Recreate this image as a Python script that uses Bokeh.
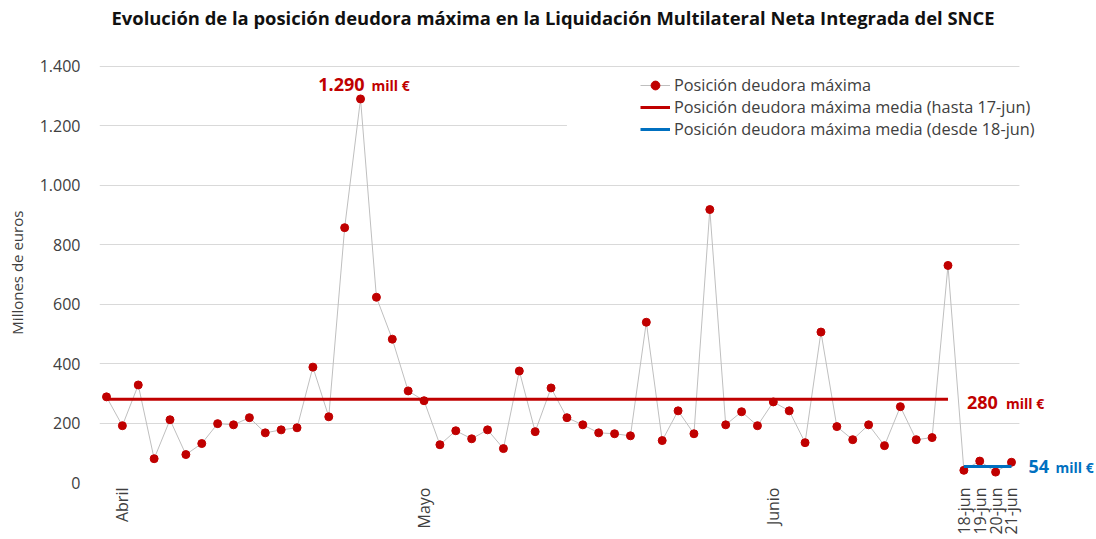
import numpy as np
from bokeh.plotting import figure
from bokeh.models import FixedTicker, Label, Legend, LegendItem, Range1d, BoxAnnotation
from bokeh.embed import file_html
from bokeh.resources import INLINE

# ---- data ----
values = [288, 191, 328, 80, 211, 94, 131, 198, 194, 218, 167, 177, 184, 388, 221,
          857, 1290, 623, 482, 308, 275, 127, 174, 147, 177, 114, 375, 171, 318, 218,
          194, 167, 164, 157, 539, 141, 241, 164, 918, 194, 238, 191, 271, 241, 134,
          506, 188, 144, 194, 124, 255, 144, 151, 730, 41, 72, 35, 68]
split = 54  # first day from 18-jun
x_tick_pos = [1, 20, 42, 54, 55, 56, 57]
x_tick_labels = ["Abril", "Mayo", "Junio", "18-jun", "19-jun", "20-jun", "21-jun"]
y_ticks = [0, 200, 400, 600, 800, 1000, 1200, 1400]
y_tick_labels = ["0", "200", "400", "600", "800", "1.000", "1.200", "1.400"]
series_names = ["Posición deudora máxima",
                "Posición deudora máxima media (hasta 17-jun)",
                "Posición deudora máxima media (desde 18-jun)"]
title_text = "Evolución de la posición deudora máxima en la Liquidación Multilateral Neta Integrada del SNCE"
y_axis_title = "Millones de euros"

RED = "#C00000"
BLUE = "#0070C0"
GRAY = "#BFBFBF"
TXT = "#404040"
FONT = "Open Sans"

x = list(range(len(values)))
n = len(values)
mean_before = round(sum(values[:split]) / split)
mean_after = round(sum(values[split:]) / (n - split))
peak_i = int(np.argmax(values))

W, H = 1094, 537
FRAME_LEFT, FRAME_BOTTOM_PAD = 99, 53
PLOT_TOP = 66                      # canvas y of the 1400 gridline
px_per_idx = 15.877
x_start = -0.441
x_end = x_start + (W - FRAME_LEFT) / px_per_idx
grid_end = n - 0.5
frame_h = H - FRAME_BOTTOM_PAD
y_max = y_ticks[-1]
y_end = y_max * frame_h / (frame_h - PLOT_TOP)

p = figure(width=W, height=H, output_backend="svg", toolbar_location=None,
           x_range=Range1d(x_start, x_end), y_range=Range1d(0, y_end),
           min_border_left=FRAME_LEFT, min_border_right=0, min_border_top=0,
           min_border_bottom=FRAME_BOTTOM_PAD)
p.outline_line_color = None
p.background_fill_color = "white"
p.xgrid.visible = False
p.ygrid.grid_line_color = "#D9D9D9"
p.ygrid.grid_line_width = 1

p.yaxis.ticker = FixedTicker(ticks=y_ticks)
p.yaxis.major_label_overrides = {t: l for t, l in zip(y_ticks, y_tick_labels)}
p.yaxis.axis_line_color = None
p.yaxis.major_tick_line_color = None
p.yaxis.minor_tick_line_color = None
p.yaxis.major_tick_out = 0
p.yaxis.major_label_standoff = 19
p.yaxis.major_label_text_font = FONT
p.yaxis.major_label_text_font_size = "16px"
p.yaxis.major_label_text_color = TXT
# trailing no-break spaces centre the visible title on the 0-1400 band
p.yaxis.axis_label = y_axis_title + "\u00a0" * 16
p.yaxis.axis_label_text_font = FONT
p.yaxis.axis_label_text_font_style = "normal"
p.yaxis.axis_label_text_font_size = "15px"
p.yaxis.axis_label_text_color = TXT
p.yaxis.axis_label_standoff = 10

p.xaxis.ticker = FixedTicker(ticks=x_tick_pos)
p.xaxis.major_label_overrides = {t: l for t, l in zip(x_tick_pos, x_tick_labels)}
p.xaxis.axis_line_color = None
p.xaxis.major_tick_line_color = None
p.xaxis.minor_tick_line_color = None
p.xaxis.major_tick_out = 0
p.xaxis.major_label_standoff = 5
p.xaxis.major_label_orientation = np.pi / 2
p.xaxis.major_label_text_font = FONT
p.xaxis.major_label_text_font_size = "16px"
p.xaxis.major_label_text_color = TXT

# white covers: gridline end on the right, and behind the legend
p.add_layout(BoxAnnotation(left=grid_end, right=x_end + 1, bottom=-100, top=y_end + 100,
                           fill_color="white", fill_alpha=1, line_color=None))
p.add_layout(BoxAnnotation(left=29, right=grid_end, bottom=1170, top=1230,
                           fill_color="white", fill_alpha=1, line_color=None))

r_line = p.line(x, values, line_color=GRAY, line_width=1)
r_pts = p.scatter(x, values, size=8, fill_color=RED, line_color=RED)
r_m1 = p.line([0, split - 1], [mean_before, mean_before], line_color=RED, line_width=3)
r_m2 = p.line([split, n - 1], [mean_after, mean_after], line_color=BLUE, line_width=3)

legend = Legend(items=[LegendItem(label=series_names[0], renderers=[r_line, r_pts]),
                       LegendItem(label=series_names[1], renderers=[r_m1]),
                       LegendItem(label=series_names[2], renderers=[r_m2])],
                location=(541, 342),
                orientation="vertical",
                border_line_color=None, background_fill_color="white", background_fill_alpha=1,
                padding=5, spacing=0, margin=0, glyph_width=30, glyph_height=22,
                label_height=22, label_standoff=4,
                label_text_font=FONT, label_text_font_size="16.3px", label_text_color=TXT)
p.add_layout(legend)

# Title (inside the extended frame, above the 1400 line)
p.add_layout(Label(x=x_start, y=y_max, x_offset=12, y_offset=PLOT_TOP - 17,
                   text=title_text, text_align="left", text_baseline="middle",
                   text_font=FONT, text_font_style="bold", text_font_size="18.4px",
                   text_color="#111111"))

def fmt(v):
    return f"{v:,}".replace(",", ".")

def annot(xi, yv, num, color, dx_num, dx_unit, dy, num_align="left"):
    p.add_layout(Label(x=xi, y=yv, x_offset=dx_num, y_offset=dy, text=num,
                       text_align=num_align, text_baseline="middle",
                       text_font=FONT, text_font_style="bold", text_font_size="18px",
                       text_color=color))
    p.add_layout(Label(x=xi, y=yv, x_offset=dx_unit, y_offset=dy - 1, text="mill €",
                       text_align="left", text_baseline="middle",
                       text_font=FONT, text_font_style="bold", text_font_size="14px",
                       text_color=color))

annot(peak_i, values[peak_i], fmt(values[peak_i]), RED, 4, 11, 14, num_align="right")
annot(split - 1, mean_before, fmt(mean_before), RED, 19, 58, -3)
annot(n - 1, mean_after, fmt(mean_after), BLUE, 17, 44, 0)

open("out.html", "w").write(file_html(p, INLINE))
